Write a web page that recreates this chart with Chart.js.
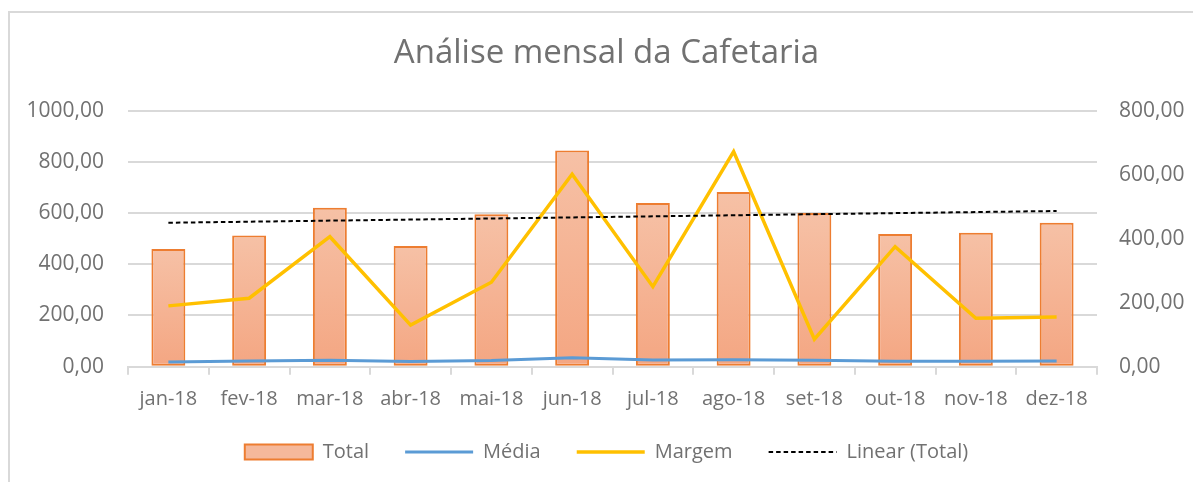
<!DOCTYPE html>
<html>
<head>
<meta charset="utf-8">
<script src="https://cdn.jsdelivr.net/npm/chart.js@4/dist/chart.umd.min.js"></script>
<style>
  html, body { margin: 0; padding: 0; background: #ffffff; overflow: hidden; }
  #frame { position: absolute; left: 8px; top: 11px; width: 1300px; height: 600px; border: 2px solid #d9d9d9; }
  #chart { position: absolute; left: 0; top: 0; }
</style>
</head>
<body>
<div id="frame"></div>
<canvas id="chart" width="1193" height="482"></canvas>
<script>
// dados
var months = ['jan-18', 'fev-18', 'mar-18', 'abr-18', 'mai-18', 'jun-18', 'jul-18', 'ago-18', 'set-18', 'out-18', 'nov-18', 'dez-18'];
var total = [460, 512, 621, 471, 595, 844, 639, 682, 600, 518, 523, 562];
var media = [15, 18, 20, 16, 19, 28, 21, 22, 20, 17, 17, 18];
var margem = [190, 214, 406, 130, 264, 601, 250, 672, 86, 375, 151, 155];
// tendência linear (Total): só as pontas
var linearTotal = [562, null, null, null, null, null, null, null, null, null, null, 608];

var leftTickLabels = ['0,00', '200,00', '400,00', '600,00', '800,00', '1000,00'];
var rightTickLabels = ['0,00', '200,00', '400,00', '600,00', '800,00'];

var textColor = '#717171';
var gridColor = '#d9d9d9';
var fontFamily = "'Open Sans', sans-serif";

// gradiente por barra (mais claro no topo)
function barGradient(context) {
    var chart = context.chart;
    if (!chart.chartArea || context.type !== 'data') return '#f5b597';
    var yScale = chart.scales.y;
    var top = yScale.getPixelForValue(context.raw);
    var base = yScale.getPixelForValue(0);
    if (!isFinite(top) || !isFinite(base) || top === base) return '#f5b597';
    var g = chart.ctx.createLinearGradient(0, top, 0, base);
    g.addColorStop(0, '#f6c1a6');
    g.addColorStop(1, '#f4a682');
    return g;
}

// legenda: espaço horizontal largo, mas altura fixa e subida um pouco
var legendPlace = {
    id: 'legendPlace',
    beforeInit: function (chart) {
        var fit = chart.legend.fit;
        chart.legend.fit = function () {
            fit.call(this);
            this.height = 64;
        };
    },
    afterLayout: function (chart) {
        chart.legend.top = 406;
    }
};

var ctx = document.getElementById('chart').getContext('2d');
new Chart(ctx, {
    type: 'bar',
    data: {
        labels: months,
        datasets: [
            {
                type: 'bar',
                label: 'Total',
                data: total,
                yAxisID: 'y',
                backgroundColor: barGradient,
                borderColor: '#ed7d31',
                borderWidth: 2,
                borderSkipped: false,
                barPercentage: 0.42,
                categoryPercentage: 1,
                pointStyle: 'rect',
                order: 3
            },
            {
                type: 'line',
                label: 'Média',
                data: media,
                yAxisID: 'y1',
                borderColor: '#5b9bd5',
                backgroundColor: '#5b9bd5',
                borderWidth: 3,
                pointRadius: 0,
                tension: 0,
                pointStyle: 'line',
                order: 2
            },
            {
                type: 'line',
                label: 'Margem',
                data: margem,
                yAxisID: 'y1',
                borderColor: '#ffc000',
                backgroundColor: '#ffc000',
                borderWidth: 3.5,
                pointRadius: 0,
                tension: 0,
                pointStyle: 'line',
                order: 1
            },
            {
                type: 'line',
                label: 'Linear (Total)',
                data: linearTotal,
                yAxisID: 'y',
                spanGaps: true,
                borderColor: '#000000',
                backgroundColor: '#000000',
                borderWidth: 2,
                borderDash: [4.5, 3],
                pointRadius: 0,
                pointStyle: 'line',
                order: 0
            }
        ]
    },
    options: {
        responsive: false,
        animation: false,
        layout: { padding: { top: 0, left: 20, right: 0, bottom: 0 } },
        plugins: {
            title: {
                display: true,
                text: 'Análise mensal da Cafetaria',
                color: textColor,
                font: { family: fontFamily, size: 33, weight: 'normal', lineHeight: 1.2 },
                padding: { top: 34, bottom: 37 }
            },
            legend: {
                position: 'bottom',
                labels: {
                    usePointStyle: true,
                    pointStyleWidth: 68,
                    boxHeight: 15,
                    padding: 36,
                    color: textColor,
                    font: { family: fontFamily, size: 20 },
                    sort: function (a, b) { return a.datasetIndex - b.datasetIndex; },
                    generateLabels: function (chart) {
                        var items = Chart.defaults.plugins.legend.labels.generateLabels(chart);
                        items.forEach(function (item) {
                            var ds = chart.data.datasets[item.datasetIndex];
                            if (ds.type === 'bar') item.fillStyle = '#f5b89b';
                            if (ds.borderDash) item.lineDash = ds.borderDash;
                        });
                        return items;
                    }
                }
            },
            tooltip: { enabled: false }
        },
        scales: {
            x: {
                grid: {
                    display: true,
                    drawOnChartArea: false,
                    drawTicks: true,
                    tickLength: 8,
                    color: gridColor,
                    lineWidth: 2,
                    offset: true
                },
                border: { display: true, color: gridColor, width: 2 },
                ticks: {
                    color: textColor,
                    padding: 16.5,
                    maxRotation: 0,
                    autoSkip: false,
                    font: { family: fontFamily, size: 20, lineHeight: 0.8 }
                },
                afterFit: function (scale) { scale.height = 51.3; }
            },
            y: {
                position: 'left',
                min: 0,
                max: 1000,
                grid: { color: gridColor, lineWidth: 2, drawTicks: false },
                border: { display: false },
                ticks: {
                    stepSize: 200,
                    padding: 24,
                    color: textColor,
                    font: { family: fontFamily, size: 21 },
                    callback: function (value, index) { return leftTickLabels[index]; }
                },
                afterFit: function (scale) { scale.width = 108; }
            },
            y1: {
                position: 'right',
                min: 0,
                max: 800,
                grid: { display: false, drawTicks: false },
                border: { display: false },
                ticks: {
                    stepSize: 200,
                    padding: 22,
                    color: textColor,
                    font: { family: fontFamily, size: 21 },
                    callback: function (value, index) { return rightTickLabels[index]; }
                },
                afterFit: function (scale) { scale.width = 96; }
            }
        }
    },
    plugins: [legendPlace]
});
</script>
</body>
</html>
